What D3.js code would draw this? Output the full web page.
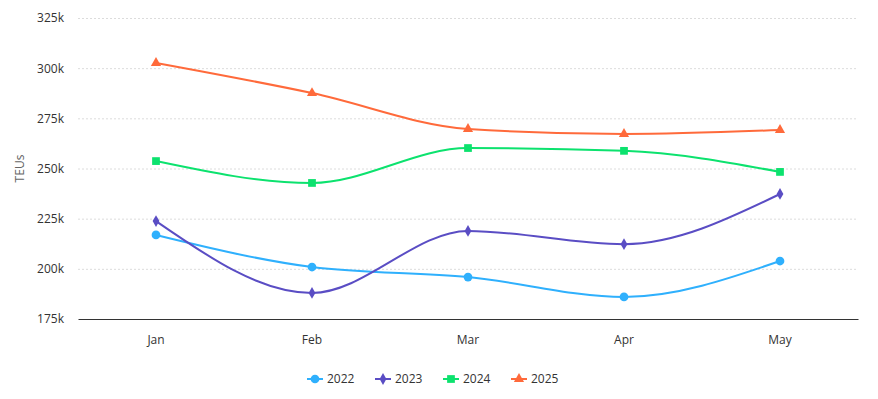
<!DOCTYPE html>
<html>
<head>
<meta charset="utf-8">
<script src="https://cdn.jsdelivr.net/npm/d3@7"></script>
<style>
  body { margin: 0; background: #fff; }
  svg text { font-family: "Open Sans", "Noto Sans", sans-serif; }
</style>
</head>
<body>
<svg id="chart" width="878" height="399"></svg>
<script>
/* data */
const months = ['Jan', 'Feb', 'Mar', 'Apr', 'May'];
const years = ['2022', '2023', '2024', '2025'];
const teu2022 = [216900, 200900, 195900, 186000, 203900];
const teu2023 = [223800, 188000, 218900, 212300, 237300];
const teu2024 = [253700, 242800, 260200, 258800, 248300];
const teu2025 = [302600, 287600, 269700, 267200, 269200];
const yTicks = [175000, 200000, 225000, 250000, 275000, 300000, 325000];

const series = [
  { name: years[0], values: teu2022, color: '#2fb0fd', symbol: d3.symbolCircle, size: 60 },
  { name: years[1], values: teu2023, color: '#5a4dc4', symbol: d3.symbolDiamond, size: 40 },
  { name: years[2], values: teu2024, color: '#0ce26e', symbol: d3.symbolSquare, size: 60 },
  { name: years[3], values: teu2025, color: '#ff6a3b', symbol: d3.symbolTriangle, size: 45 }
];

const svg = d3.select('#chart');
const m = { top: 18, right: 20, bottom: 80, left: 78 };
const W = 878, H = 399;
const iw = W - m.left - m.right, ih = H - m.top - m.bottom;

const g = svg.append('g').attr('transform', `translate(${m.left},${m.top})`);

const x = d3.scaleBand().domain(months).range([0, iw]);
const y = d3.scaleLinear().domain([175000, 325000]).range([ih, 0]);
const cx = d => x(d) + x.bandwidth() / 2;

/* grid */
g.append('g').selectAll('line').data(yTicks.slice(1)).join('line')
  .attr('x1', 0).attr('x2', iw)
  .attr('y1', d => y(d) + 0.5).attr('y2', d => y(d) + 0.5)
  .attr('stroke', '#dcdcdc').attr('stroke-dasharray', '2,2');

/* y axis */
const yAxis = g.append('g')
  .call(d3.axisLeft(y).tickValues(yTicks).tickFormat(d => (d / 1000) + 'k').tickSize(0).tickPadding(14));
yAxis.select('.domain').remove();
yAxis.selectAll('text').attr('fill', '#333').style('font-size', '12px');

/* x axis */
const xAxis = g.append('g').attr('transform', `translate(0,${ih})`)
  .call(d3.axisBottom(x).tickSize(0).tickPadding(16));
xAxis.select('.domain').attr('stroke', '#333').attr('stroke-width', 1.2);
xAxis.selectAll('text').attr('fill', '#333').style('font-size', '12px');

svg.append('text')
  .attr('transform', `translate(24,${m.top + ih / 2}) rotate(-90)`)
  .attr('text-anchor', 'middle')
  .attr('fill', '#666').style('font-size', '12px')
  .text('TEUs');

/* lines */
const line = d3.line().x((d, i) => cx(months[i])).y(d => y(d)).curve(d3.curveMonotoneX);

series.forEach(s => {
  g.append('path').datum(s.values)
    .attr('d', line)
    .attr('fill', 'none').attr('stroke', s.color).attr('stroke-width', 2);
  g.append('g').selectAll('path').data(s.values).join('path')
    .attr('d', d3.symbol().type(s.symbol).size(s.size))
    .attr('transform', (d, i) => `translate(${cx(months[i])},${y(d)})`)
    .attr('fill', s.color);
});

/* legend */
const legend = svg.append('g').attr('transform', 'translate(307,379)');
const itemW = 68;
series.forEach((s, i) => {
  const it = legend.append('g').attr('transform', `translate(${i * itemW},0)`);
  it.append('line').attr('x1', 0).attr('x2', 16).attr('y1', 0).attr('y2', 0)
    .attr('stroke', s.color).attr('stroke-width', 2);
  it.append('path').attr('d', d3.symbol().type(s.symbol).size(s.size))
    .attr('transform', 'translate(8,0)').attr('fill', s.color);
  it.append('text').attr('x', 20).attr('dy', '0.35em')
    .attr('fill', '#333').style('font-size', '12px').text(s.name);
});
</script>
</body>
</html>
